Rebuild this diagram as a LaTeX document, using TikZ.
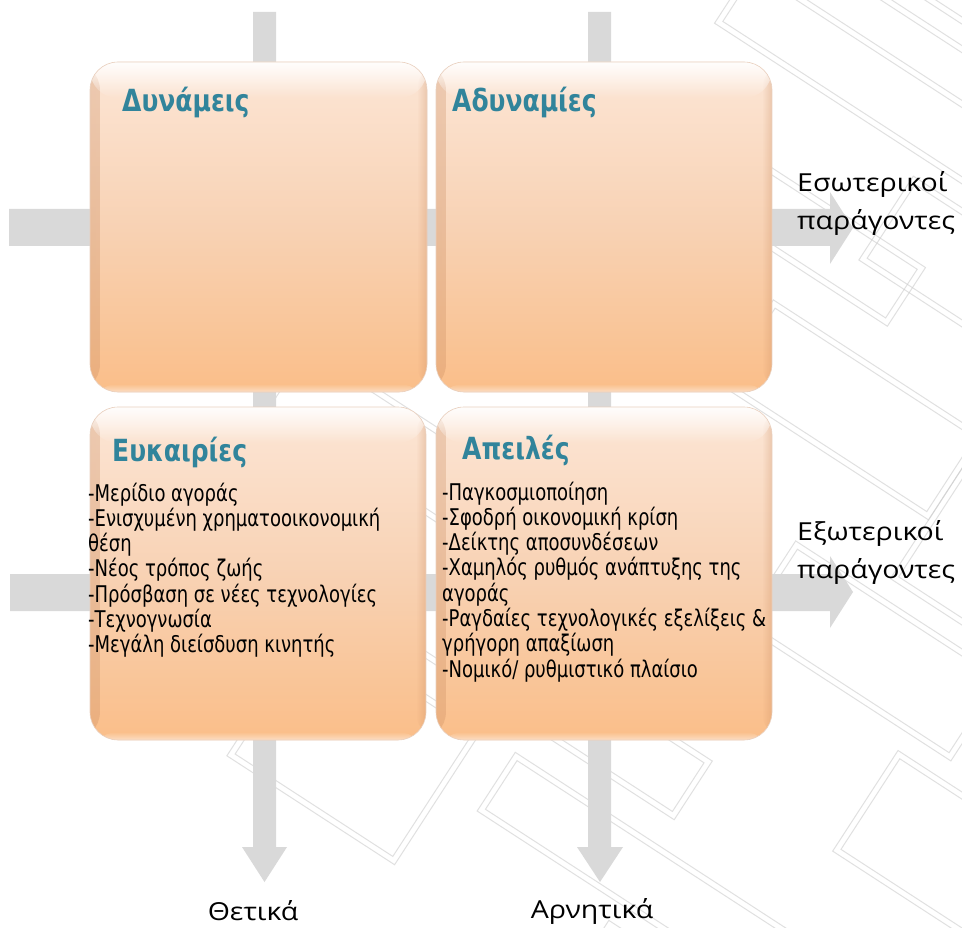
\documentclass[tikz,border=0pt]{standalone}
\usepackage{graphicx}
\usepackage{fontspec}
\setmainfont{Open Sans}
\newfontfamily\headfont{DejaVu Sans}
\newfontfamily\listfont{DejaVu Sans Condensed}
\usetikzlibrary{fadings}

\definecolor{axisgray}{HTML}{D9D9D9}
\definecolor{headteal}{HTML}{31849B}
\definecolor{cardtop}{HTML}{FCE6D6}
\definecolor{cardmid}{HTML}{F8D2B4}
\definecolor{cardbot}{HTML}{FABE89}
\definecolor{cardedge}{HTML}{C98A5E}
\definecolor{markline}{HTML}{CCCCCC}

\tikzfading[name=fadetop, top color=transparent!0, bottom color=transparent!100]
\tikzfading[name=fadebottom, top color=transparent!100, bottom color=transparent!0]
\tikzfading[name=fadeleft, left color=transparent!0, right color=transparent!100]
\tikzfading[name=faderight, left color=transparent!100, right color=transparent!0]

% text stretched vertically, as set in the cards
\newcommand{\tallhead}[1]{\scalebox{1}[1.22]{#1}}
\newcommand{\tallitem}[1]{\scalebox{1}[1.15]{#1}}
\newcommand{\flatlabel}[1]{\scalebox{1}[0.87]{#1}}

\tikzset{
  card/.style={rounded corners=28pt, inner sep=0pt, draw=cardedge!40, line width=0.6pt,
    top color=cardtop, bottom color=cardbot, middle color=cardmid,
    path picture={
      \fill[cardedge, opacity=0.3, path fading=fadeleft]
        (path picture bounding box.north west) rectangle ([xshift=10pt]path picture bounding box.south west);
      \fill[cardedge, opacity=0.3, path fading=faderight]
        ([xshift=-10pt]path picture bounding box.north east) rectangle (path picture bounding box.south east);
      \fill[white, opacity=0.95, path fading=fadetop]
        (path picture bounding box.north west) rectangle ([yshift=-36pt]path picture bounding box.north east);
      \fill[white, opacity=0.5, path fading=fadebottom]
        ([yshift=8pt]path picture bounding box.south west) rectangle (path picture bounding box.south east);
    }},
  head/.style={anchor=base west, inner sep=0pt, text=headteal,
    font=\headfont\bfseries\fontsize{25}{30}\selectfont},
  item/.style={anchor=base west, inner sep=0pt, text=black,
    font=\listfont\fontsize{20}{25}\selectfont},
  side/.style={anchor=base west, inner sep=0pt, text=black,
    font=\fontsize{28.5}{34}\selectfont},
  foot/.style={anchor=base, inner sep=0pt, text=black,
    font=\fontsize{28.5}{34}\selectfont},
  emblemline/.style={draw=markline, line width=1pt, opacity=0.6},
}

\begin{document}
\begin{tikzpicture}[x=1pt, y=-1pt]
\useasboundingbox (0,0) rectangle (962,928);
\fill[white] (0,0) rectangle (962,928);

% faint background emblem: double-outlined bars at a slant
\begin{scope}[shift={(690,520)}, rotate=-33]
  \foreach \a/\b/\c/\d in {-400/-570/300/-540, -250/-500/150/-430, 0/-410/300/-310,
      -150/-340/60/-270, -50/-230/200/-130, 200/-260/430/-60, 100/-40/350/60,
      300/80/540/200, -320/190/150/260, -260/290/-60/450, -20/290/420/360,
      150/380/520/450, -420/60/-150/140, 380/-380/560/-280}{
    \draw[emblemline] (\a,\b) rectangle (\c,\d);
    \draw[emblemline] (\a+6,\b+6) rectangle (\c-6,\d-6);
  }
\end{scope}

% axis arrows
\fill[axisgray] (253,12) -- (276,12) -- (276,847) -- (287,847) -- (264.5,882)
  -- (242,847) -- (253,847) -- cycle;
\fill[axisgray] (588,12) -- (611,12) -- (611,847) -- (623,847) -- (600,882)
  -- (577,847) -- (588,847) -- cycle;
\fill[axisgray] (9,209) -- (830,209) -- (830,192) -- (853,228) -- (830,264)
  -- (830,246) -- (9,246) -- cycle;
\fill[axisgray] (10,574) -- (830,574) -- (830,556) -- (853,592) -- (830,628)
  -- (830,611) -- (10,611) -- cycle;

% the four cards
\node[card, minimum width=337pt, minimum height=330pt] (str) at (258.5,227) {};
\node[card, minimum width=336pt, minimum height=330pt] (wea) at (604,227) {};
\node[card, minimum width=336pt, minimum height=333pt] (opp) at (258,573.5) {};
\node[card, minimum width=336pt, minimum height=333pt] (thr) at (604,573.5) {};

% card headings
\node[head] (hstr) at (122,112) {\tallhead{Δυνάμεις}};
\node[head] (hwea) at (452,112) {\tallhead{Αδυναμίες}};
\node[head] (hopp) at (112,461) {\tallhead{Ευκαιρίες}};
\node[head] (hthr) at (462,459) {\tallhead{Απειλές}};

% opportunities list
\foreach \t [count=\i] in {-Μερίδιο αγοράς, -Ενισχυμένη χρηματοοικονομική, θέση,
    -Νέος τρόπος ζωής, -Πρόσβαση σε νέες τεχνολογίες, -Τεχνογνωσία,
    -Μεγάλη διείσδυση κινητής}{
  \node[item] (o\i) at (88,{501+25.3*(\i-1)}) {\tallitem{\t}};
}
% threats list
\foreach \t [count=\i] in {-Παγκοσμιοποίηση, -Σφοδρή οικονομική κρίση,
    -Δείκτης αποσυνδέσεων, -Χαμηλός ρυθμός ανάπτυξης της, αγοράς,
    -Ραγδαίες τεχνολογικές εξελίξεις \&, γρήγορη απαξίωση,
    -Νομικό/ ρυθμιστικό πλαίσιο}{
  \node[item] (r\i) at (442,{500+25.3*(\i-1)}) {\tallitem{\t}};
}

% axis labels
\node[side] (in1) at (797,192) {\flatlabel{Εσωτερικοί}};
\node[side] (in2) at (797,230) {\flatlabel{παράγοντες}};
\node[side] (ex1) at (797,540) {\flatlabel{Εξωτερικοί}};
\node[side] (ex2) at (797,578) {\flatlabel{παράγοντες}};
\node[foot] (pos) at (253,920) {\flatlabel{Θετικά}};
\node[foot] (neg) at (592,918) {\flatlabel{Αρνητικά}};
\end{tikzpicture}
\end{document}
